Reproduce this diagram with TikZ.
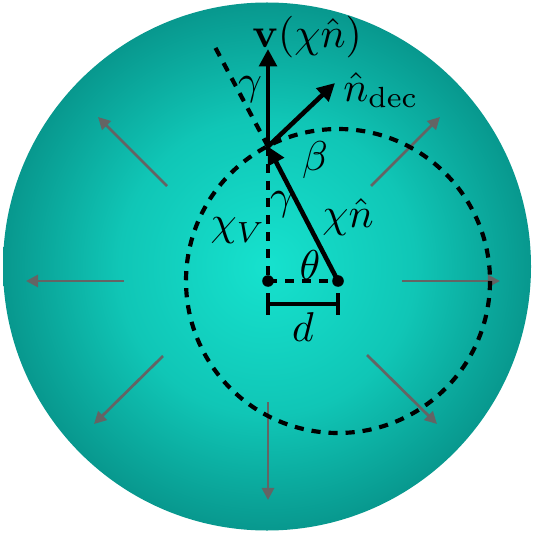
\documentclass[tikz,border=0pt]{standalone}
\usetikzlibrary{arrows.meta}
\definecolor{tealin}{RGB}{22,226,206}
\definecolor{tealmid}{RGB}{16,198,182}
\definecolor{tealout}{RGB}{8,152,142}
\definecolor{arrowgray}{RGB}{100,100,100}
\pgfdeclareradialshading{tealball}{\pgfpoint{0bp}{0bp}}{color(0bp)=(tealin); color(14bp)=(tealmid); color(25bp)=(tealout); color(50bp)=(tealout)}
\tikzset{
  grayarrow/.style={draw=arrowgray, line width=0.65pt, -{Triangle[length=2.9pt,width=2.9pt]}, arrowgray},
  blackarrow/.style={draw=black, line width=1.1pt, -{Triangle[length=4.2pt,width=4.2pt]}},
  dashline/.style={draw=black, line width=1pt, dash pattern=on 2.2pt off 1.9pt},
  lbl/.style={inner sep=0pt, outer sep=0pt}
}
\begin{document}
\begin{tikzpicture}[x=0.24pt,y=-0.24pt]
\useasboundingbox (0,0) rectangle (532,538);
% sphere
\shade[shading=tealball] (267,266.5) circle[radius=264];
% radial gray arrows
\coordinate (a1s) at (167,186); \coordinate (a1e) at (98,117);
\coordinate (a2s) at (124,281); \coordinate (a2e) at (26,281);
\coordinate (a3s) at (163,356); \coordinate (a3e) at (94,424);
\coordinate (a4s) at (268,402); \coordinate (a4e) at (268,500);
\coordinate (a5s) at (367,355); \coordinate (a5e) at (437,424);
\coordinate (a6s) at (402,281); \coordinate (a6e) at (500,281);
\coordinate (a7s) at (371,186); \coordinate (a7e) at (440,117);
\foreach \i in {1,...,7} {\draw[grayarrow] (a\i s) -- (a\i e);}
% key points
\coordinate (O) at (268,281);
\coordinate (C) at (338,281);
\coordinate (P) at (268,146.5);
\coordinate (V) at (268,49);
\coordinate (N) at (335,83);
\coordinate (E) at (215,47);
% dashed circle
\draw[dashline] (C) circle[radius=152];
% dashed lines
\draw[dashline] (P) -- (E);
\draw[dashline] (P) -- (O);
\draw[dashline] (O) -- (C);
% black arrows
\draw[blackarrow] (P) -- (V);
\draw[blackarrow] (P) -- (N);
\draw[blackarrow] (C) -- (P);
% dots
\fill (O) circle[radius=5.8];
\fill (C) circle[radius=5.8];
% d bar
\coordinate (d1) at (268,304); \coordinate (d2) at (338,304);
\draw[line width=0.8pt] (268,293) -- (268,315);
\draw[line width=0.8pt] (338,293) -- (338,315);
\draw[line width=0.8pt] (d1) -- (d2);
% labels
\node[lbl] (lv) at (307,37) {$\mathbf{v}(\chi\hat{n})$};
\node[lbl] (ln) at (381,90) {$\hat{n}_{\mathrm{dec}}$};
\node[lbl] (lg1) at (250,90) {$\gamma$};
\node[lbl] (lb) at (315,160) {$\beta$};
\node[lbl] (lg2) at (282,205) {$\gamma$};
\node[lbl] (lcv) at (238,231) {$\chi_V$};
\node[lbl] (lcn) at (348,217) {$\chi\hat{n}$};
\node[lbl] (lt) at (310,265) {$\theta$};
\node[lbl] (ld) at (303,327) {$d$};
\end{tikzpicture}
\end{document}
